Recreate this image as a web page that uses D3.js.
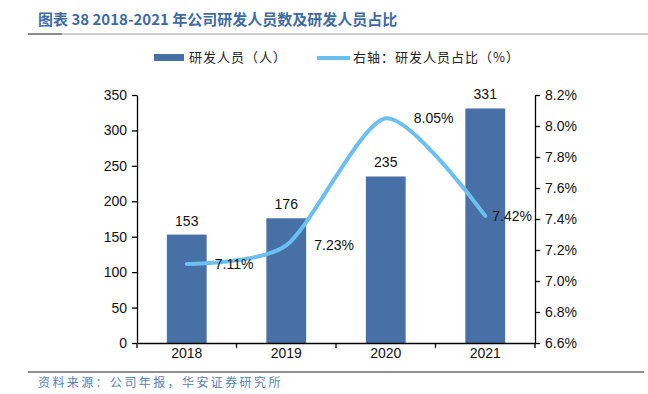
<!DOCTYPE html>
<html>
<head>
<meta charset="utf-8">
<script src="https://cdn.jsdelivr.net/npm/d3@7"></script>
<style>
  body { margin: 0; background: #fff; }
  svg { display: block; font-family: "Liberation Sans", Arial, sans-serif; }
  .cjk { font-family: "Noto Sans CJK SC", sans-serif; }
</style>
</head>
<body>
<svg id="chart" width="648" height="394"></svg>
<script>
'use strict';

// chart data
const years = ['2018', '2019', '2020', '2021'];
const staff = [153, 176, 235, 331];
const staffShare = [7.11, 7.23, 8.05, 7.42];
const leftTicks = [0, 50, 100, 150, 200, 250, 300, 350];
const rightTicks = [6.6, 6.8, 7.0, 7.2, 7.4, 7.6, 7.8, 8.0, 8.2];

const svg = d3.select('#chart');
const barColour = '#4670a6';
const lineColour = '#6cc0f0';

const plotL = 137, plotR = 535, plotT = 95, plotB = 343;

// scales
const x = d3.scaleBand().domain(years).range([plotL, plotR]).paddingInner(0.6).paddingOuter(0.3);
const xBand = d3.scaleBand().domain(years).range([plotL, plotR]);
const yL = d3.scaleLinear().domain([0, 350]).range([plotB, plotT]);
const yR = d3.scaleLinear().domain([6.6, 8.2]).range([plotB, plotT]);

// title
svg.append('text').attr('class', 'cjk')
  .attr('x', 38).attr('y', 25)
  .attr('fill', '#3f6ba5').attr('font-size', 15).attr('font-weight', 'bold')
  .text('图表 38 2018-2021 年公司研发人员数及研发人员占比');
svg.append('line').attr('x1', 28).attr('x2', 648).attr('y1', 34).attr('y2', 34)
  .attr('stroke', '#999').attr('stroke-width', 1.2);
svg.append('line').attr('x1', 28).attr('x2', 62).attr('y1', 34).attr('y2', 34)
  .attr('stroke', '#777').attr('stroke-width', 1.6);

// legend
svg.append('rect').attr('x', 154).attr('y', 54).attr('width', 30).attr('height', 7).attr('fill', barColour);
svg.append('text').attr('class', 'cjk').attr('x', 189).attr('y', 62)
  .attr('font-size', 13).attr('letter-spacing', 1).attr('fill', '#222').text('研发人员（人）');
svg.append('line').attr('x1', 317).attr('x2', 350).attr('y1', 58).attr('y2', 58)
  .attr('stroke', lineColour).attr('stroke-width', 4);
svg.append('text').attr('class', 'cjk').attr('x', 353).attr('y', 62)
  .attr('font-size', 13).attr('letter-spacing', 1).attr('fill', '#222').text('右轴：研发人员占比（%）');

// bars
svg.selectAll('rect.bar').data(staff).enter().append('rect')
  .attr('class', 'bar')
  .attr('x', (d, i) => x(years[i]))
  .attr('width', x.bandwidth())
  .attr('y', d => yL(d))
  .attr('height', d => plotB - yL(d))
  .attr('fill', barColour);

svg.selectAll('text.barlabel').data(staff).enter().append('text')
  .attr('class', 'barlabel')
  .attr('x', (d, i) => x(years[i]) + x.bandwidth() / 2)
  .attr('y', d => yL(d) - 9)
  .attr('text-anchor', 'middle').attr('font-size', 14).attr('fill', '#111')
  .text(d => d);

// axes
const axisL = svg.append('g').attr('transform', `translate(${plotL},0)`)
  .call(d3.axisLeft(yL).tickValues(leftTicks).tickSize(5).tickSizeOuter(0));
const axisR = svg.append('g').attr('transform', `translate(${plotR},0)`)
  .call(d3.axisRight(yR).tickValues(rightTicks).tickSize(5).tickSizeOuter(0)
    .tickFormat(d => d.toFixed(1) + '%'));
const axisB = svg.append('g').attr('transform', `translate(0,${plotB})`)
  .call(d3.axisBottom(xBand).tickSize(0));

[axisL, axisR, axisB].forEach(g => {
  g.selectAll('path, line').attr('stroke', '#000').attr('stroke-width', 1.3);
  g.selectAll('text').attr('font-size', 14).attr('fill', '#111')
    .attr('font-family', '"Liberation Sans", Arial, sans-serif');
});
axisL.selectAll('text').attr('dx', -2);
axisR.selectAll('text').attr('dx', 2);
axisB.selectAll('text').attr('dy', 12);

// category boundary ticks on the x axis (including both ends)
const xEdges = years.map(d => xBand(d)).concat([plotR]);
svg.selectAll('line.xtick').data(xEdges).enter().append('line')
  .attr('class', 'xtick')
  .attr('x1', d => d).attr('x2', d => d)
  .attr('y1', plotB).attr('y2', plotB + 5)
  .attr('stroke', '#000').attr('stroke-width', 1.3);

// smoothed share line
const pts = staffShare.map((v, i) => [x(years[i]) + x.bandwidth() / 2, yR(v)]);
svg.append('path').datum(pts)
  .attr('d', d3.line().curve(d3.curveCardinal.tension(0.25)))
  .attr('fill', 'none').attr('stroke', lineColour)
  .attr('stroke-width', 4).attr('stroke-linecap', 'round');

svg.selectAll('text.sharelabel').data(staffShare).enter().append('text')
  .attr('class', 'sharelabel')
  .attr('x', (d, i) => pts[i][0] + (i === staffShare.length - 1 ? 7 : 28))
  .attr('y', (d, i) => pts[i][1] + 5)
  .attr('font-size', 14).attr('fill', '#111')
  .text(d => d.toFixed(2) + '%');

// source
svg.append('line').attr('x1', 28).attr('x2', 644).attr('y1', 372).attr('y2', 372)
  .attr('stroke', '#222').attr('stroke-width', 1.2);
svg.append('text').attr('class', 'cjk').attr('x', 38).attr('y', 387)
  .attr('font-size', 12).attr('letter-spacing', 2.4).attr('fill', '#5a7fb5')
  .text('资料来源：公司年报，华安证券研究所');
</script>
</body>
</html>
